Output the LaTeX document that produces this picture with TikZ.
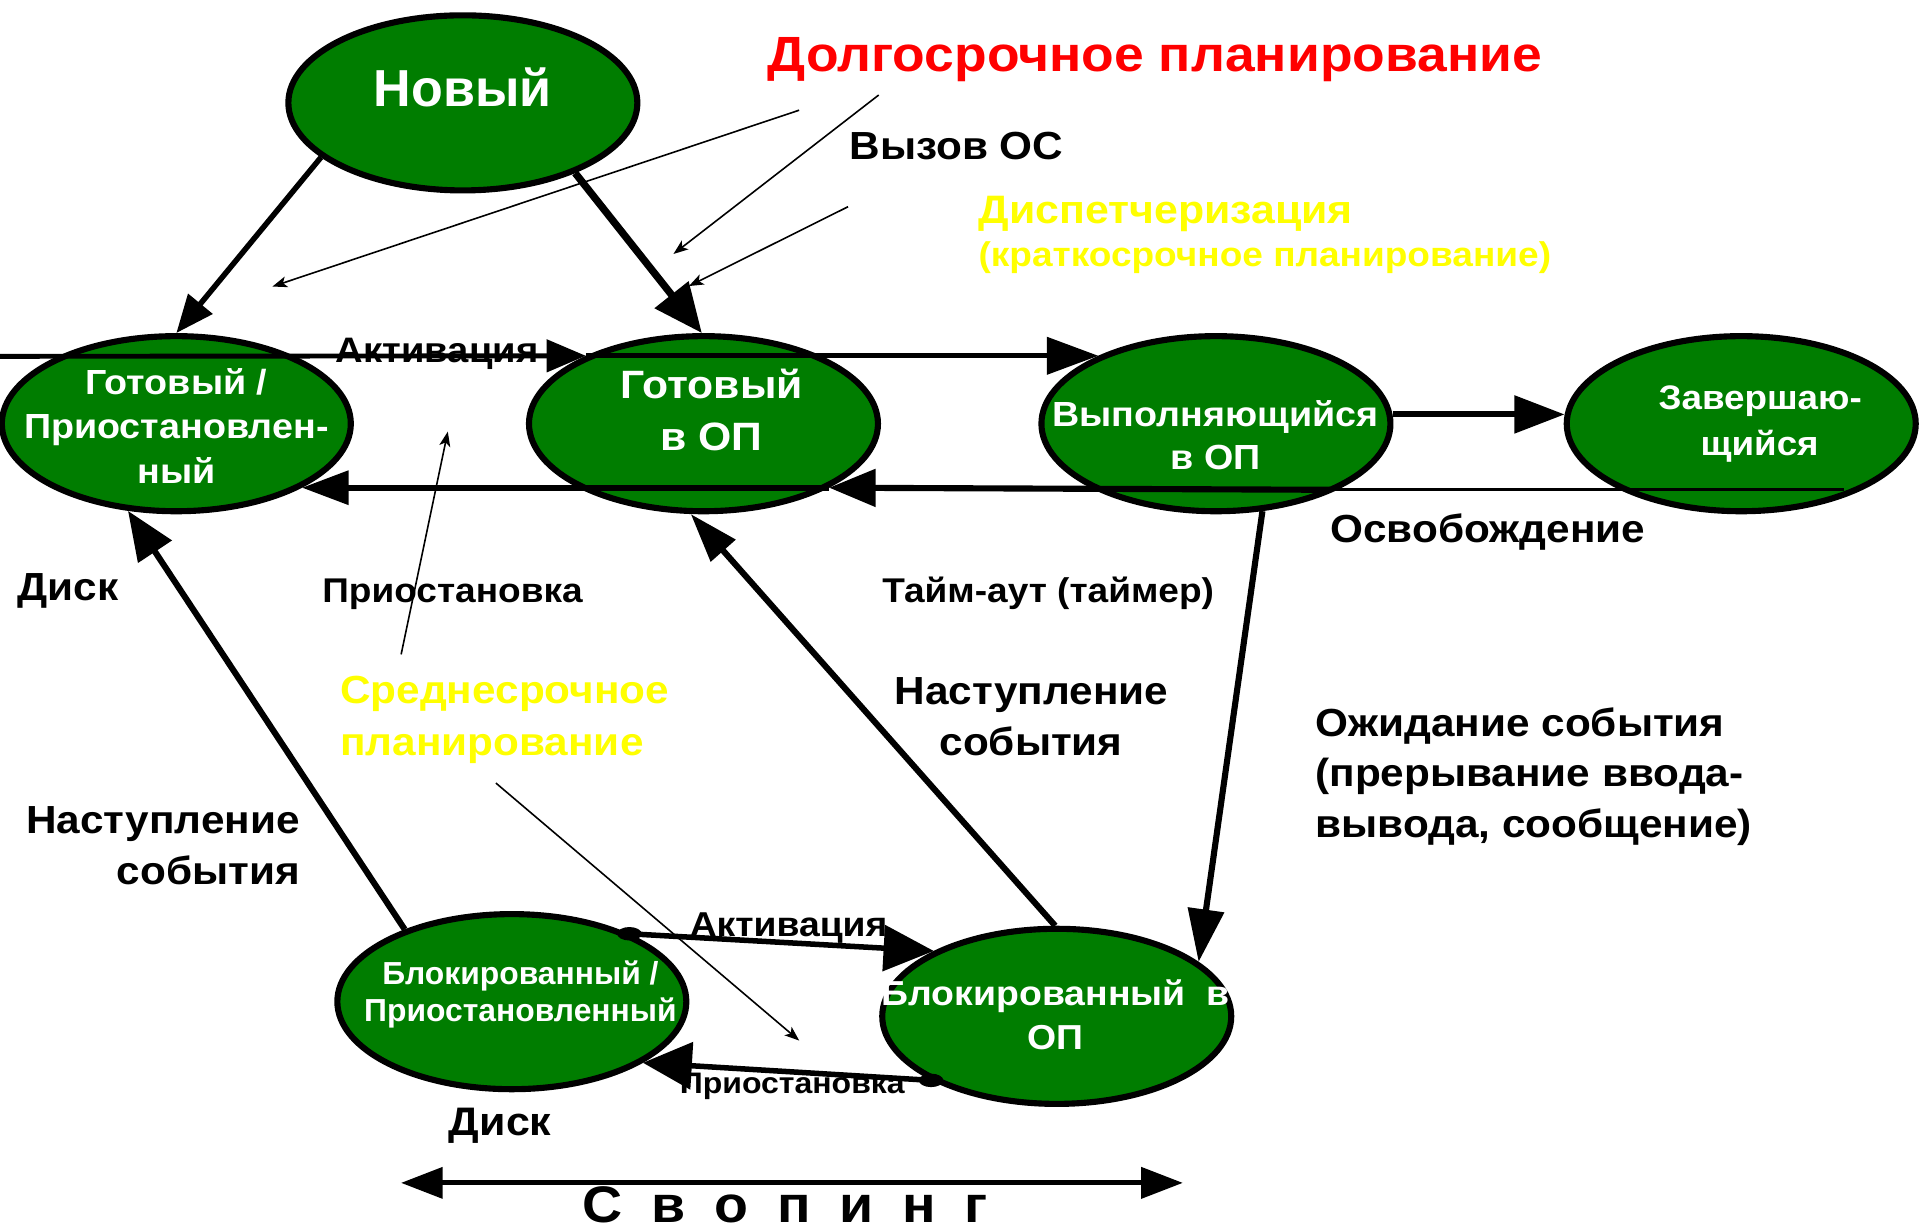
\documentclass[tikz,border=0pt]{standalone}
\usepackage{fontspec}
\setmainfont{Liberation Sans}[FakeStretch=1.08]
\newfontfamily\plainsans{Liberation Sans}
\usetikzlibrary{shapes.geometric,arrows.meta,calc}
\definecolor{egreen}{RGB}{0,125,0}
\definecolor{ylw}{RGB}{255,255,0}
\definecolor{rd}{RGB}{255,0,0}
\newcommand\fsz[1]{\fontsize{#1}{#1}\selectfont\bfseries}
\newcommand\swgap{\hspace{23.5pt}}
\begin{document}
\begin{tikzpicture}[x=1pt,y=-1pt,
  st/.style={ellipse, draw=black, line width=5pt, fill=egreen, minimum width=285pt, minimum height=143pt, inner sep=0pt},
  wt/.style={text=white, anchor=base, inner sep=0pt},
  lb/.style={text=black, anchor=base, inner sep=0pt},
  ar/.style n args={3}{line width=#1pt, -{Triangle[length=#2pt,width=#3pt]}},
  thinar/.style={line width=1.3pt, -{Stealth[length=12pt,width=9pt,inset=3pt]}}
]
\useasboundingbox (0,0) rectangle (1568,1005);

% states
\node[st] (nov) at (378,84) {};
\node[st] (gp) at (144,346) {};
\node[st] (gop) at (574.5,346) {};
\node[st] (vyp) at (993,346) {};
\node[st] (zav) at (1422,346) {};
\node[st] (bp) at (418,818) {};
\node[st] (bop) at (863,830) {};

% state texts
\node[wt,font={\plainsans\fsz{42.5}}] (tnov) at (378,86.6) {Новый};
\node[wt,font=\fsz{28.5}] (tgp1) at (144,321.8) {Готовый /};
\node[wt,font=\fsz{28.5}] (tgp2) at (144,358) {Приостановлен-};
\node[wt,font=\fsz{28.5}] (tgp3) at (144,394.7) {ный};
\node[wt,font=\fsz{32.3}] (tgop1) at (581,325.3) {Готовый};
\node[wt,font=\fsz{32.3}] (tgop2) at (581,367.5) {в ОП};
\node[wt,font=\fsz{28.5}] (tvyp1) at (992.5,348.4) {Выполняющийся};
\node[wt,font=\fsz{28.5}] (tvyp2) at (993,383.8) {в ОП};
\node[wt,font=\fsz{27.8}] (tzav1) at (1437.5,334.3) {Завершаю-};
\node[wt,font=\fsz{27.8}] (tzav2) at (1437,371.6) {щийся};
\node[wt,font={\plainsans\fsz{26}}] (tbp1) at (425,803.8) {Блокированный /};
\node[wt,font={\plainsans\fsz{26}}] (tbp2) at (425,834.5) {Приостановленный};
\node[wt,font=\fsz{28.3}] (tbop1) at (862,821) {Блокированный\ \ в};
\node[wt,font=\fsz{28.3}] (tbop2) at (862,857.3) {ОП};

% labels
\node[lb,font=\fsz{40.4},text=rd] (ldolg) at (943,58.5) {Долгосрочное планирование};
\node[lb,font=\fsz{32}] (lvyz) at (781,130) {Вызов ОС};
\node[lb,font=\fsz{32.4},text=ylw,anchor=base west] (ldisp1) at (799,182.4) {Диспетчеризация};
\node[lb,font=\fsz{28},text=ylw,anchor=base west] (ldisp2) at (799,218) {(краткосрочное планирование)};
\node[lb,font=\fsz{28.9}] (lakt1) at (357,296) {Активация};
\node[lb,font=\fsz{32}] (losv) at (1215,443) {Освобождение};
\node[lb,font=\fsz{32},anchor=base west] (ldisk1) at (14,490.5) {Диск};
\node[lb,font=\fsz{28}] (lpri1) at (369.5,492.4) {Приостановка};
\node[lb,font=\fsz{28}] (ltaim) at (856,492.4) {Тайм-аут (таймер)};
\node[lb,font=\fsz{32},text=ylw,anchor=base west] (lsr1) at (277.6,574.6) {Среднесрочное};
\node[lb,font=\fsz{32},text=ylw,anchor=base west] (lsr2) at (277.6,616.6) {планирование};
\node[lb,font=\fsz{32}] (lnas1) at (842.5,575.5) {Наступление};
\node[lb,font=\fsz{32}] (lnas2) at (842,616.6) {события};
\node[lb,font=\fsz{32},anchor=base west] (lozh1) at (1074,601.3) {Ожидание события};
\node[lb,font=\fsz{32},anchor=base west] (lozh2) at (1074,642.5) {(прерывание ввода-};
\node[lb,font=\fsz{32},anchor=base west] (lozh3) at (1074,684.3) {вывода, сообщение)};
\node[lb,font=\fsz{32},anchor=base east] (lnasl1) at (245,680.4) {Наступление};
\node[lb,font=\fsz{32},anchor=base east] (lnasl2) at (245,722.4) {события};
\node[lb,font=\fsz{28.2}] (lakt2) at (644,765) {Активация};
\node[lb,font=\fsz{24.2}] (lpri2) at (647,893) {Приостановка};
\node[lb,font=\fsz{32.5}] (ldisk2) at (408.5,927) {Диск};
\node[lb,font=\fsz{42}] (lswap) at (641.5,998.5) {С\swgap в\swgap о\swgap п\swgap и\swgap н\swgap г};

% free coordinates
\coordinate (L0) at (0,291);
\coordinate (R0) at (1506,400);
\coordinate (R1) at (1086,400);
\coordinate (S1) at (327.5,966);
\coordinate (S2) at (966,966);
\coordinate (T1a) at (652.6,90);   \coordinate (T1b) at (222.5,234);
\coordinate (T2a) at (717.6,77.6); \coordinate (T2b) at (550,207.4);
\coordinate (T3a) at (692.6,168.8);\coordinate (T3b) at (562.6,233.6);
\coordinate (T4a) at (327.6,534.4);\coordinate (T4b) at (365.7,352.5);
\coordinate (T5a) at (405,639.5);  \coordinate (T5b) at (652.7,849.8);

% main connectors
\draw[ar={4.5}{31}{25}] (nov.201) -- (gp.90);
\draw[ar={6}{40}{34}] (nov.328) -- (gop.91.5);
\draw[ar={4}{32}{26}] (L0) -- (gop.150.6);
\draw[ar={4}{42}{30}] (gop.150.6) -- (vyp.150.6);
\draw[line width=2.5pt] (R0) -- (R1);
\draw[ar={5}{38}{30}] (R1) -- (gop.-27.7);
\draw[ar={5}{38}{27}] (gop.-27.7) -- (gp.-27.7);
\draw[ar={5}{41}{30}] (vyp.3) -- (zav.177);
\draw[ar={5}{43}{29}] (vyp.-62) -- (bop.21);
\draw[ar={5}{40}{26}] (bop.91) -- (gop.262);
\draw[ar={5}{40}{32}] (bp.146) -- (gp.241.6);
\draw[ar={4.5}{41}{37}] (bp.30) -- (bop.152);
\fill (bp.30) ellipse [x radius=10pt, y radius=5.5pt];
\draw[ar={4.5}{40}{38}] (bop.207) -- (bp.-25);
\fill (bop.207) ellipse [x radius=10pt, y radius=5.5pt];
\draw[line width=4pt, {Triangle[length=34pt,width=25pt]}-{Triangle[length=34pt,width=25pt]}] (S1) -- (S2);

% thin pointer arrows
\draw[thinar] (T1a) -- (T1b);
\draw[thinar] (T2a) -- (T2b);
\draw[thinar] (T3a) -- (T3b);
\draw[thinar] (T4a) -- (T4b);
\draw[thinar] (T5a) -- (T5b);
\end{tikzpicture}
\end{document}
